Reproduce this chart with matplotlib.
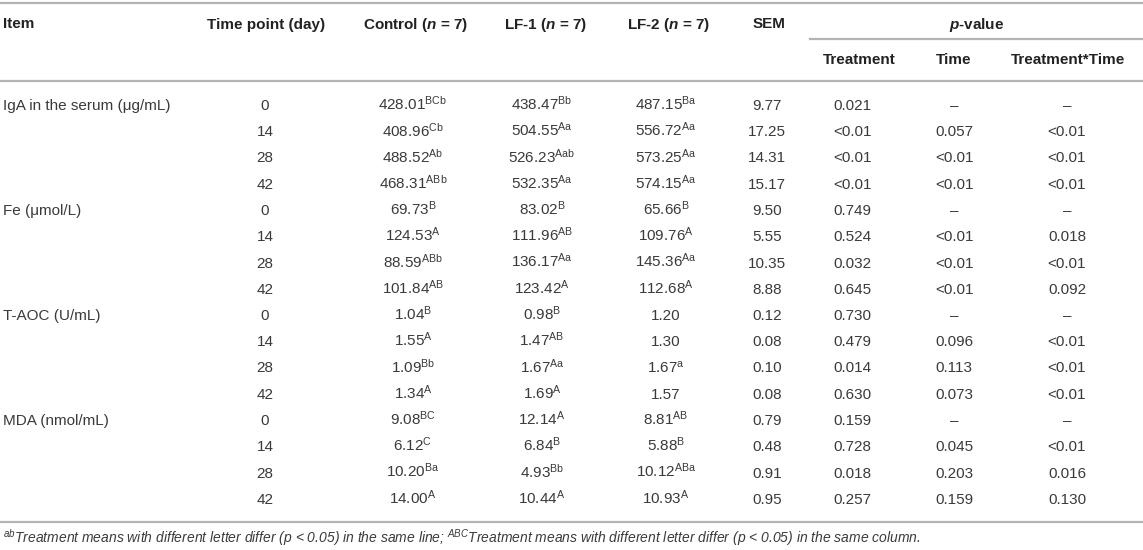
import matplotlib
matplotlib.use("Agg")
import matplotlib.pyplot as plt

plt.rcParams["font.family"] = ["Liberation Sans", "DejaVu Sans"]
plt.rcParams["mathtext.fontset"] = "custom"
plt.rcParams["mathtext.rm"] = "Liberation Sans"
plt.rcParams["mathtext.it"] = "Liberation Sans:italic:bold"
plt.rcParams["mathtext.sf"] = "Liberation Sans:italic"
plt.rcParams["mathtext.bf"] = "Liberation Sans:bold"

# table data
items = ["IgA in the serum (μg/mL)", "Fe (μmol/L)", "T-AOC (U/mL)", "MDA (nmol/mL)"]
days = ["0", "14", "28", "42"]

control_val = ["428.01", "408.96", "488.52", "468.31", "69.73", "124.53", "88.59", "101.84",
               "1.04", "1.55", "1.09", "1.34", "9.08", "6.12", "10.20", "14.00"]
control_sup = ["BCb", "Cb", "Ab", "ABb", "B", "A", "ABb", "AB",
               "B", "A", "Bb", "A", "BC", "C", "Ba", "A"]
lf1_val = ["438.47", "504.55", "526.23", "532.35", "83.02", "111.96", "136.17", "123.42",
           "0.98", "1.47", "1.67", "1.69", "12.14", "6.84", "4.93", "10.44"]
lf1_sup = ["Bb", "Aa", "Aab", "Aa", "B", "AB", "Aa", "A",
           "B", "AB", "Aa", "A", "A", "B", "Bb", "A"]
lf2_val = ["487.15", "556.72", "573.25", "574.15", "65.66", "109.76", "145.36", "112.68",
           "1.20", "1.30", "1.67", "1.57", "8.81", "5.88", "10.12", "10.93"]
lf2_sup = ["Ba", "Aa", "Aa", "Aa", "B", "A", "Aa", "A",
           "", "", "a", "", "AB", "B", "ABa", "A"]
sem = ["9.77", "17.25", "14.31", "15.17", "9.50", "5.55", "10.35", "8.88",
       "0.12", "0.08", "0.10", "0.08", "0.79", "0.48", "0.91", "0.95"]
p_treat = ["0.021", "<0.01", "<0.01", "<0.01", "0.749", "0.524", "0.032", "0.645",
           "0.730", "0.479", "0.014", "0.630", "0.159", "0.728", "0.018", "0.257"]
p_time = ["–", "0.057", "<0.01", "<0.01", "–", "<0.01", "<0.01", "<0.01",
          "–", "0.096", "0.113", "0.073", "–", "0.045", "0.203", "0.159"]
p_inter = ["–", "<0.01", "<0.01", "<0.01", "–", "0.018", "<0.01", "0.092",
           "–", "<0.01", "<0.01", "<0.01", "–", "<0.01", "0.016", "0.130"]

footnote = (r"$^{\mathsf{ab}}$Treatment means with different letter differ (p < 0.05) in the same line; "
            r"$^{\mathsf{ABC}}$Treatment means with different letter differ (p < 0.05) in the same column.")

W, H = 1143, 550
fig = plt.figure(figsize=(W / 100, H / 100), dpi=100)
ax = fig.add_axes([0, 0, 1, 1])
ax.set_xlim(0, W)
ax.set_ylim(H, 0)
ax.axis("off")

txt = "#3a3a3a"
hdr = "#222222"
rule = "#b4b4b4"
fs = 11

# column centres in pixels: (header, body)
x_item = 3
x_day = (266, 265)
x_ctrl = (416, 413)
x_lf1 = (546, 542)
x_lf2 = (669, 666)
x_sem = (769, 767)
x_tr = (859, 852)
x_ti = (954, 954)
x_tt = (1068, 1067)

# rules
ax.plot([0, W], [3, 3], color=rule, lw=1.6)
ax.plot([810, W], [39, 39], color=rule, lw=1.6)
ax.plot([0, W], [81, 81], color=rule, lw=1.6)
ax.plot([0, W], [522, 522], color=rule, lw=1.6)

# header (baselines)
hy = 28.5
hkw = dict(va="baseline", fontsize=fs, fontweight="bold", color=hdr)
ax.text(x_item, hy, "Item", ha="left", **hkw)
ax.text(x_day[0], hy, "Time point (day)", ha="center", **hkw)
ax.text(x_ctrl[0], hy, r"Control ($n$ = 7)", ha="center", **hkw)
ax.text(x_lf1[0], hy, r"LF-1 ($n$ = 7)", ha="center", **hkw)
ax.text(x_lf2[0], hy, r"LF-2 ($n$ = 7)", ha="center", **hkw)
ax.text(x_sem[0], hy, "SEM", ha="center", **hkw)
ax.text((810 + W) / 2, hy, r"$p$-value", ha="center", **hkw)
sy = 64.5
ax.text(x_tr[0], sy, "Treatment", ha="center", **hkw)
ax.text(x_ti[0], sy, "Time", ha="center", **hkw)
ax.text(x_tt[0], sy, "Treatment*Time", ha="center", **hkw)


def with_sup(v, s):
    if s:
        return v + r"$^{\mathrm{" + s + "}}$"
    return v


y0 = 110
dy = 26.25
bkw = dict(ha="center", va="baseline", fontsize=fs, color=txt)
for i in range(len(sem)):
    y = y0 + i * dy
    if i % 4 == 0:
        ax.text(x_item, y, items[i // 4], ha="left", va="baseline", fontsize=fs, color=txt)
    ax.text(x_day[1], y, days[i % 4], **bkw)
    ax.text(x_ctrl[1], y, with_sup(control_val[i], control_sup[i]), **bkw)
    ax.text(x_lf1[1], y, with_sup(lf1_val[i], lf1_sup[i]), **bkw)
    ax.text(x_lf2[1], y, with_sup(lf2_val[i], lf2_sup[i]), **bkw)
    ax.text(x_sem[1], y, sem[i], **bkw)
    ax.text(x_tr[1], y, p_treat[i], **bkw)
    ax.text(x_ti[1], y, p_time[i], **bkw)
    ax.text(x_tt[1], y, p_inter[i], **bkw)

ax.text(x_item, 543, footnote, ha="left", va="baseline", fontsize=10, style="italic", color=txt)

fig.savefig("out.png", dpi=100)
